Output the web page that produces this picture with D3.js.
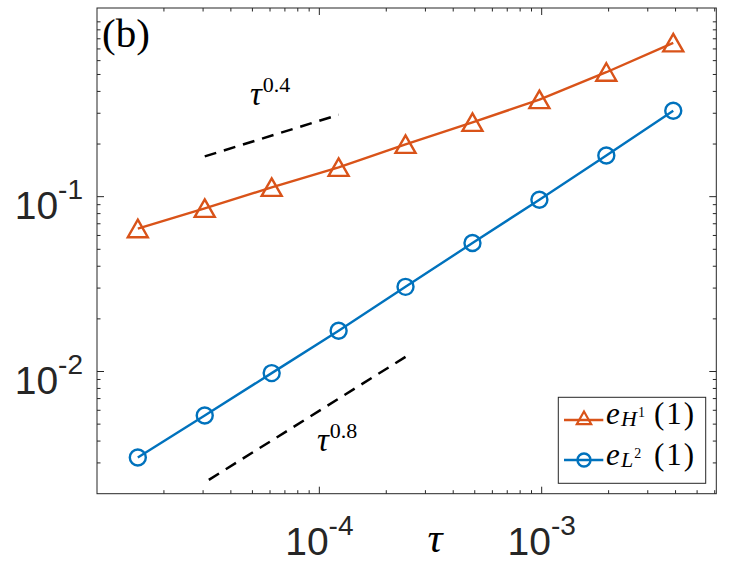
<!DOCTYPE html>
<html><head><meta charset="utf-8">
<script src="https://cdn.jsdelivr.net/npm/d3@7"></script>
<style>body{margin:0;background:#fff} svg{display:block}</style>
</head><body><svg id="c" width="750" height="562"></svg>
<script>
// ---- data ----
const tau   = [1.526e-5, 3.052e-5, 6.104e-5, 1.221e-4, 2.441e-4, 4.883e-4, 9.766e-4, 1.953e-3, 3.906e-3];
const errH1 = [0.0656, 0.0857, 0.113, 0.147, 0.199, 0.266, 0.359, 0.515, 0.758];
const errL2 = [0.00322, 0.00560, 0.00979, 0.0171, 0.0305, 0.0543, 0.0961, 0.172, 0.310];
const ref04Tau = [3.052e-5, 1.221e-4];
const ref04Err = [0.170, 0.294];
const ref08Tau = [3.052e-5, 2.441e-4];
const ref08Err = [0.00232, 0.01213];
const xMajor = [1e-4, 1e-3];
const xMajorExp = ["-4", "-3"];
const yMajor = [1e-2, 1e-1];
const yMajorExp = ["-2", "-1"];
const xDomain = [1e-5, 6.1e-3];
const yDomain = [2e-3, 1.2];
const seriesNames = [["H","1"],["L","2"]];

// ---- drawing ----
const svg = d3.select("#c");
const L = 97, R = 716.3, T = 8, B = 493.7;
const x = d3.scaleLog().domain(xDomain).range([L, R]);
const y = d3.scaleLog().domain(yDomain).range([B, T]);
const axCol = "#262626";
const cOr = "#D95319", cBl = "#0072BD";
const serif = "'Liberation Serif','DejaVu Serif',serif";
const sans = "'Liberation Sans',Arial,sans-serif";

svg.append("rect").attr("x", L).attr("y", T).attr("width", R - L).attr("height", B - T)
  .attr("fill", "#fff").attr("stroke", axCol).attr("stroke-width", 1);

const tg = svg.append("g").attr("stroke", axCol).attr("stroke-width", 1);
const xt = x.ticks().filter(v => v > xDomain[0] * 1.001 && v < xDomain[1]);
const yt = y.ticks().filter(v => v > yDomain[0] * 1.001 && v < yDomain[1]);
xt.forEach(v => {
  const len = xMajor.some(m => Math.abs(m - v) / m < 1e-6) ? 7 : 3.5;
  tg.append("line").attr("x1", x(v)).attr("x2", x(v)).attr("y1", B).attr("y2", B - len);
  tg.append("line").attr("x1", x(v)).attr("x2", x(v)).attr("y1", T).attr("y2", T + len);
});
yt.forEach(v => {
  const len = yMajor.some(m => Math.abs(m - v) / m < 1e-6) ? 7 : 3.5;
  tg.append("line").attr("y1", y(v)).attr("y2", y(v)).attr("x1", L).attr("x2", L + len);
  tg.append("line").attr("y1", y(v)).attr("y2", y(v)).attr("x1", R).attr("x2", R - len);
});

// tick labels
xMajor.forEach((v, i) => {
  const t = svg.append("text").attr("x", x(v)).attr("y", 555).attr("text-anchor", "middle")
    .attr("font-family", sans).attr("fill", axCol).attr("font-size", 39);
  t.append("tspan").text("10");
  t.append("tspan").attr("font-size", 28).attr("dy", -20).text(xMajorExp[i]);
});
yMajor.forEach((v, i) => {
  const t = svg.append("text").attr("x", 83).attr("y", y(v) + 22).attr("text-anchor", "end")
    .attr("font-family", sans).attr("fill", axCol).attr("font-size", 39);
  t.append("tspan").text("10");
  t.append("tspan").attr("font-size", 28).attr("dy", -20).text(yMajorExp[i]);
});

// x label
svg.append("text").attr("x", 435).attr("y", 552).attr("text-anchor", "middle")
  .attr("font-family", serif).attr("font-style", "italic").attr("font-size", 42).text("τ");

// reference lines
const line = d3.line().x(d => x(d[0])).y(d => y(d[1]));
svg.append("path").datum(d3.zip(ref04Tau, ref04Err)).attr("d", line)
  .attr("fill", "none").attr("stroke", "#000").attr("stroke-width", 2.5).attr("stroke-dasharray", "12,8");
svg.append("path").datum(d3.zip(ref08Tau, ref08Err).reverse()).attr("d", line)
  .attr("fill", "none").attr("stroke", "#000").attr("stroke-width", 2.5).attr("stroke-dasharray", "12,8");

function powLabel(px, py, exp) {
  const t = svg.append("text").attr("x", px).attr("y", py).attr("font-family", serif).attr("fill", "#000");
  t.append("tspan").attr("font-style", "italic").attr("font-size", 33).text("τ");
  t.append("tspan").attr("font-size", 22).attr("dy", -13).attr("dx", 1).text(exp);
}
powLabel(250, 105, "0.4");
powLabel(317, 451, "0.8");

// series
const tri = "M0,-9L10,8.5L-10,8.5Z";
svg.append("path").datum(d3.zip(tau, errH1)).attr("d", line)
  .attr("fill", "none").attr("stroke", cOr).attr("stroke-width", 2.4);
svg.append("path").datum(d3.zip(tau, errL2)).attr("d", line)
  .attr("fill", "none").attr("stroke", cBl).attr("stroke-width", 2.4);
svg.selectAll(".tri").data(d3.zip(tau, errH1)).join("path")
  .attr("d", tri).attr("transform", d => `translate(${x(d[0])},${y(d[1])})`)
  .attr("fill", "none").attr("stroke", cOr).attr("stroke-width", 2.4);
svg.selectAll(".circ").data(d3.zip(tau, errL2)).join("circle")
  .attr("cx", d => x(d[0])).attr("cy", d => y(d[1])).attr("r", 8)
  .attr("fill", "none").attr("stroke", cBl).attr("stroke-width", 2.4);

// panel label
svg.append("text").attr("x", 102).attr("y", 47).attr("font-family", serif).attr("font-size", 41).text("(b)");

// legend
const lg = svg.append("g");
lg.append("rect").attr("x", 558.3).attr("y", 397.3).attr("width", 147.4).attr("height", 86)
  .attr("fill", "#fff").attr("stroke", axCol).attr("stroke-width", 1);
const rows = [{c: cOr, y: 420, by: 424, m: "tri"}, {c: cBl, y: 460, by: 465, m: "circ"}];
rows.forEach((r, i) => {
  lg.append("line").attr("x1", 564).attr("x2", 603.3).attr("y1", r.y).attr("y2", r.y)
    .attr("stroke", r.c).attr("stroke-width", 2.4);
  if (r.m === "tri") {
    lg.append("path").attr("d", tri).attr("transform", `translate(584,${r.y - 2}) scale(0.72)`)
      .attr("fill", "none").attr("stroke", r.c).attr("stroke-width", 3);
  } else {
    lg.append("circle").attr("cx", 584).attr("cy", r.y).attr("r", 6.5)
      .attr("fill", "none").attr("stroke", r.c).attr("stroke-width", 2.4);
  }
  const t = lg.append("text").attr("y", r.by).attr("font-family", serif).attr("fill", "#000").attr("font-size", 31);
  t.append("tspan").attr("x", 606).attr("font-style", "italic").text("e");
  t.append("tspan").attr("x", 621).attr("font-style", "italic").attr("font-size", 22).attr("dy", 2).text(seriesNames[i][0]);
  t.append("tspan").attr("font-size", 14).attr("dx", 1).attr("dy", -9).text(seriesNames[i][1]);
  t.append("tspan").attr("x", 654).attr("dy", 7).attr("letter-spacing", 2).text("(1)");
});
</script></body></html>
